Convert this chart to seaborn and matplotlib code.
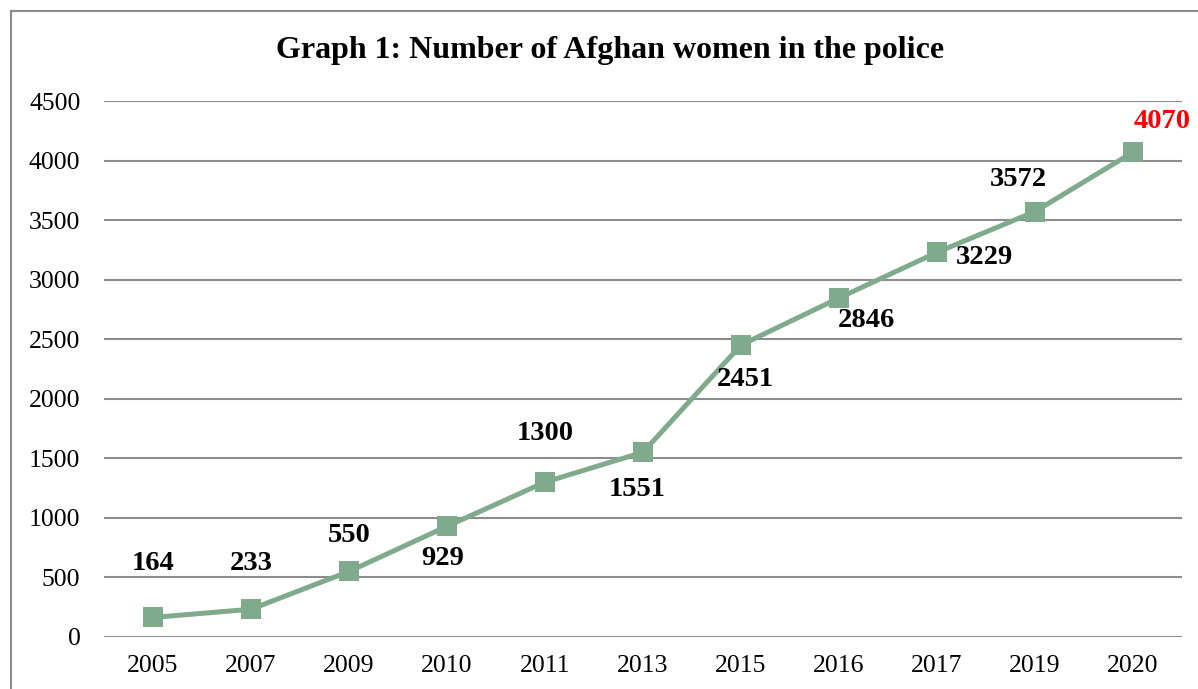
import matplotlib
matplotlib.use("Agg")
import matplotlib.pyplot as plt
import matplotlib.patches as patches
import pandas as pd
import seaborn as sns

years = ['2005', '2007', '2009', '2010', '2011', '2013', '2015', '2016', '2017', '2019', '2020']
women = [164, 233, 550, 929, 1300, 1551, 2451, 2846, 3229, 3572, 4070]
# label offsets in points (dx, dy)
offsets = [(0, 39), (0, 33), (0, 26), (-3, -23), (0, 35), (-4, -27),
           (3, -25), (20, -16), (34, -4), (-12, 23), (21, 22)]
label_colors = ['black'] * 10 + ['red']

df = pd.DataFrame({'year': years, 'women': women})

sns.set_style('white')
plt.rcParams['font.family'] = ['Liberation Serif', 'DejaVu Serif']
plt.rcParams['text.color'] = 'black'
plt.rcParams['xtick.color'] = 'black'
plt.rcParams['ytick.color'] = 'black'

fig = plt.figure(figsize=(11.98, 6.89), dpi=100)
ax = fig.add_axes([0.0868, 0.0755, 0.8998, 0.7779])

sns.lineplot(x='year', y='women', data=df, ax=ax, color='#7faa8b',
             linewidth=3.6, marker='s', markersize=14, markeredgewidth=0,
             sort=False, zorder=3)

for i, v in enumerate(women):
    ax.annotate(str(v), (i, v), xytext=offsets[i], textcoords='offset points',
                ha='center', va='center', fontsize=20.5, fontweight='bold',
                color=label_colors[i])

ax.set_ylim(0, 4500)
ax.set_xlim(-0.5, len(years) - 0.5)
ax.set_yticks(range(0, 4501, 500))
ax.yaxis.grid(True, color='#8c8c8c', linewidth=1.5)
ax.set_axisbelow(True)
for s in ax.spines.values():
    s.set_visible(False)
ax.tick_params(axis='both', length=0, labelsize=18.5, labelcolor='black')
ax.tick_params(axis='x', pad=13)
ax.tick_params(axis='y', pad=17)
ax.set_xlabel('')
ax.set_ylabel('')

fig.text(0.509, 0.926, 'Graph 1: Number of Afghan women in the police',
         ha='center', va='center', fontsize=23, fontweight='bold', color='black')

# outer border of the chart area (right and bottom edges are cut off)
fig.patches.append(patches.Rectangle((11 / 1198, -0.1), 1.2, 1 - 11 / 689 + 0.1,
                                     transform=fig.transFigure, fill=False,
                                     edgecolor='#8c8c8c', linewidth=1.5))

fig.savefig('out.png', dpi=100)
